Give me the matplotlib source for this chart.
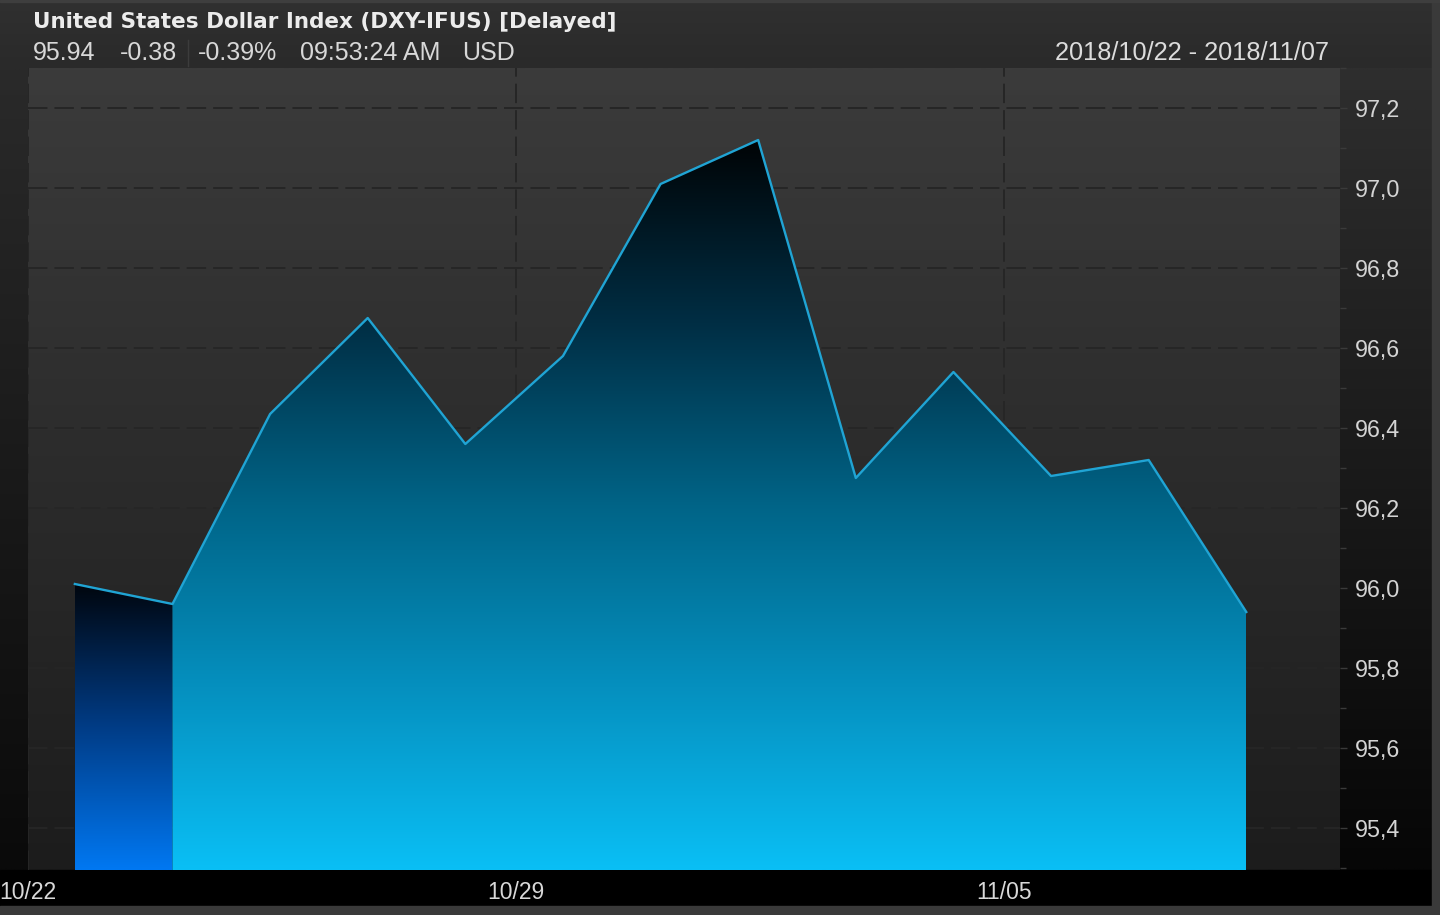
import numpy as np
import matplotlib
matplotlib.use("Agg")
import matplotlib.pyplot as plt
from matplotlib.colors import LinearSegmentedColormap, to_rgb
from matplotlib.patches import Polygon
from matplotlib.ticker import FuncFormatter, MultipleLocator

# ---------------- data ----------------
dates = ["10/22", "10/23", "10/24", "10/25", "10/26",
         "10/29", "10/30", "10/31", "11/01", "11/02",
         "11/05", "11/06", "11/07"]
values = [96.01, 95.96, 96.435, 96.675, 96.36,
          96.58, 97.01, 97.12, 96.275, 96.54,
          96.28, 96.32, 95.94]
x_tick_labels = ["10/22", "10/29", "11/05"]
y_ticks = [95.4, 95.6, 95.8, 96.0, 96.2, 96.4, 96.6, 96.8, 97.0, 97.2]

title = "United States Dollar Index (DXY-IFUS) [Delayed]"
quote_parts = ["95.94", "-0.38", "-0.39%", "09:53:24 AM", "USD"]
date_range = "2018/10/22 - 2018/11/07"

FONT = ["Liberation Sans", "DejaVu Sans"]
plt.rcParams["font.family"] = FONT

W, H = 1440, 915
fig = plt.figure(figsize=(W / 100, H / 100), dpi=100)
fig.patch.set_facecolor("#2c2c2c")

# ---------------- background (pixel coordinates) ----------------
bg = fig.add_axes([0, 0, 1, 1])
bg.set_xlim(0, W)
bg.set_ylim(H, 0)
bg.axis("off")


def vgrad(axh, x0, x1, ytop, ybot, ctop, cbot, z=0):
    t = np.linspace(0, 1, 256)[:, None, None]
    a = np.array(to_rgb(ctop))[None, None, :]
    b = np.array(to_rgb(cbot))[None, None, :]
    rgb = a * (1 - t) + b * t
    axh.imshow(rgb, extent=(x0, x1, ybot, ytop), origin="upper",
               aspect="auto", interpolation="bilinear", zorder=z)


PL, PR, PT, PB = 28, 1340, 68, 870
vgrad(bg, 0, 1432, 0, PT, "#303030", "#2a2a2a")
vgrad(bg, 0, PL, PT, PB, "#2a2a2a", "#0a0a0a")
vgrad(bg, PL, PR, PT, PB, "#3b3b3b", "#1c1c1c")
vgrad(bg, PR, 1432, PT, PB, "#2e2e2e", "#060606")
bg.add_patch(plt.Rectangle((0, PB), 1432, 36, color="#000000", zorder=1))
bg.add_patch(plt.Rectangle((0, 906), W, 10, color="#3a3a3a", zorder=1))
bg.add_patch(plt.Rectangle((1432, 0), 8, H, color="#3a3a3a", zorder=1))
bg.add_patch(plt.Rectangle((0, 0), W, 2, color="#3e3e3e", zorder=1))
bg.set_xlim(0, W)
bg.set_ylim(H, 0)

# header texts
bg.text(33, 28, title, color="#ececec", fontsize=15.5, fontweight="bold",
        family=["DejaVu Sans"], ha="left", va="baseline", zorder=3)
quote_x = [33, 120, 198, 300, 462]
for s, xx in zip(quote_parts, quote_x):
    bg.text(xx, 60, s, color="#d8d8d8", fontsize=18, ha="left",
            va="baseline", zorder=3)
bg.plot([188, 188], [40, 66], color="#3c3c3c", lw=1, zorder=3)
bg.text(1329, 60, date_range, color="#dcdcdc", fontsize=18.3, ha="right",
        va="baseline", zorder=3)

# ---------------- main chart ----------------
ax = fig.add_axes([PL / W, (H - PB) / H, (PR - PL) / W, (PB - PT) / H])
ax.set_facecolor("none")
for sp in ax.spines.values():
    sp.set_visible(False)

n = len(values)
xpos = np.arange(n) + 0.48
y_lo, y_hi = 95.295, 97.3
x_lo, x_hi = 0, 13.44

main_cmap = LinearSegmentedColormap.from_list(
    "main", [(0, "#000406"), (0.25, "#002e44"), (0.5, "#006487"),
             (0.75, "#0590bf"), (1, "#0abff5")])
first_cmap = LinearSegmentedColormap.from_list(
    "first", [(0, "#00060e"), (0.5, "#003c86"), (1, "#0078f2")])


def grad_fill(xs, ys, cmap):
    verts = [(xs[0], y_lo)] + list(zip(xs, ys)) + [(xs[-1], y_lo)]
    poly = Polygon(verts, closed=True, facecolor="none", edgecolor="none")
    ax.add_patch(poly)
    g = np.linspace(0, 1, 256)[:, None]
    im = ax.imshow(g, extent=(xs[0], xs[-1], y_lo, max(ys)), origin="upper",
                   aspect="auto", cmap=cmap, interpolation="bilinear", zorder=1)
    im.set_clip_path(poly)


grad_fill(xpos[:2], values[:2], first_cmap)
grad_fill(xpos[1:], values[1:], main_cmap)
ax.plot(xpos, values, color="#20a4d4", lw=1.7, zorder=3,
        solid_joinstyle="round")

ax.set_xlim(x_lo, x_hi)
ax.set_ylim(y_lo, y_hi)

tick_idx = [dates.index(d) for d in x_tick_labels]
ax.set_xticks(tick_idx)
ax.set_xticklabels(x_tick_labels)
ax.set_yticks(y_ticks)
ax.yaxis.set_minor_locator(MultipleLocator(0.1))
ax.yaxis.set_major_formatter(FuncFormatter(lambda v, p: f"{v:.1f}".replace(".", ",")))
ax.yaxis.tick_right()
ax.tick_params(axis="y", which="major", length=5, width=1, color="#3a3a3a",
               labelcolor="#d4d4d4", labelsize=16.8, pad=6)
ax.tick_params(axis="y", which="minor", length=4, width=1, color="#3a3a3a")
ax.tick_params(axis="x", length=0, labelcolor="#d8d8d8", labelsize=16.5, pad=8)

ax.set_axisbelow(True)
ax.grid(True, which="major", color="#262626", lw=1.4, linestyle=(0, (10, 3.6)),
        zorder=0.5)

fig.savefig("out.png", dpi=100, facecolor=fig.get_facecolor())
